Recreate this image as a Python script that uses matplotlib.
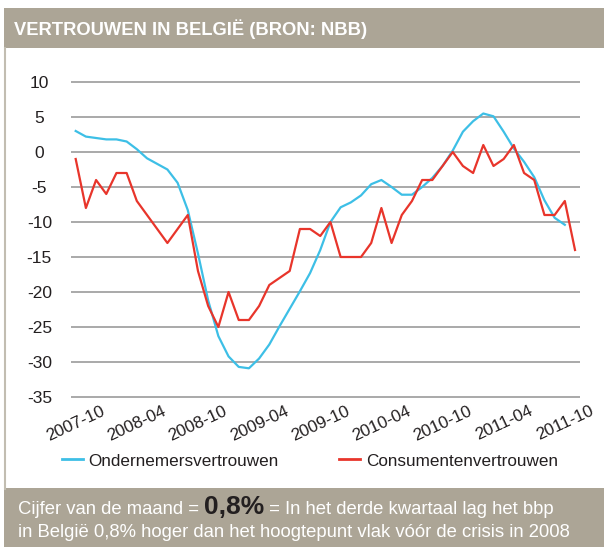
import matplotlib
matplotlib.use('Agg')
import matplotlib.pyplot as plt
from matplotlib.patches import Rectangle
from matplotlib.lines import Line2D

plt.rcParams['font.family'] = ['Liberation Sans', 'DejaVu Sans']
plt.rcParams['axes.unicode_minus'] = False

# maandelijkse reeksen, 2007-10 .. 2011-11
ondernemers = [3.0, 2.2, 2.0, 1.8, 1.8, 1.5, 0.4, -0.9, -1.7, -2.5,
               -4.4, -8.3, -14.5, -21.2, -26.3, -29.2, -30.7, -30.9, -29.5, -27.5,
               -24.9, -22.4, -19.9, -17.3, -14.0, -10.0, -7.9, -7.2, -6.2, -4.6,
               -4.0, -5.0, -6.1, -6.1, -5.0, -3.7, -2.0, 0.2, 2.9, 4.4,
               5.5, 5.1, 2.9, 0.5, -1.4, -3.6, -6.9, -9.4, -10.4]
consumenten = [-1, -8, -4, -6, -3, -3, -7, -9, -11, -13,
               -11, -9, -17, -22, -25, -20, -24, -24, -22, -19,
               -18, -17, -11, -11, -12, -10, -15, -15, -15, -13,
               -8, -13, -9, -7, -4, -4, -2, 0, -2, -3,
               1, -2, -1, 1, -3, -4, -9, -9, -7, -14]
tick_pos = [0, 6, 12, 18, 24, 30, 36, 42, 48]
tick_labels = ['2007-10', '2008-04', '2008-10', '2009-04', '2009-10',
               '2010-04', '2010-10', '2011-04', '2011-10']
y_ticks = [10, 5, 0, -5, -10, -15, -20, -25, -30, -35]

BLUE = '#3dbfe6'
RED = '#e8352b'
BAR = '#aca596'
TXT = '#231f20'

W, H = 604, 547
fig = plt.figure(figsize=(W / 100, H / 100), dpi=100)


def fx(x):
    return x / W


def fy(y):
    return 1 - y / H


# kader en titelbalk
fig.add_artist(Line2D([fx(4.5), fx(4.5)], [fy(48), fy(489)], color='#c2bdb1', lw=1.5))
fig.add_artist(Rectangle((fx(4), fy(48)), 600 / W, 40 / H, color=BAR, lw=0))
fig.text(fx(14), fy(35), 'VERTROUWEN IN BELGIË (BRON: NBB)', color='white',
         fontsize=13.2, fontweight='bold', va='baseline')

ax = fig.add_axes([fx(70.6), fy(398.05), (580.1 - 70.6) / W, (398.05 - 80.95) / H])
ax.plot(range(len(ondernemers)), ondernemers, color=BLUE, lw=1.6)
ax.plot(range(len(consumenten)), consumenten, color=RED, lw=1.6)
ax.set_xlim(-0.5, 49.5)
ax.set_ylim(-35.15, 10.15)
ax.set_yticks(y_ticks)
ax.set_xticks(tick_pos, tick_labels, rotation=25)
for s in ax.spines.values():
    s.set_visible(False)
ax.grid(axis='y', color='#9b9b9b', lw=1.2)
ax.set_axisbelow(True)
ax.tick_params(axis='y', length=0, pad=22.5, labelsize=12.5, labelcolor=TXT)
ax.tick_params(axis='x', length=0, pad=4, labelsize=12.3, labelcolor=TXT)
for t in ax.get_yticklabels():
    t.set_horizontalalignment('center')

# legenda
fig.add_artist(Line2D([fx(62), fx(83)], [fy(459), fy(459)], color=BLUE, lw=2))
fig.text(fx(88), fy(466), 'Ondernemersvertrouwen', fontsize=12.3, color=TXT, va='baseline')
fig.add_artist(Line2D([fx(339), fx(360)], [fy(459), fy(459)], color=RED, lw=2))
fig.text(fx(366), fy(466), 'Consumentenvertrouwen', fontsize=12.3, color=TXT, va='baseline')

# onderbalk
fig.add_artist(Rectangle((fx(4), 0), 600 / W, 59 / H, color=BAR, lw=0))
t1 = fig.text(fx(18), fy(514), 'Cijfer van de maand = ', color='white', fontsize=13.3, va='baseline')
fig.canvas.draw()
x1 = t1.get_window_extent().x1
t2 = fig.text(x1 / W, fy(514), '0,8%', color=TXT, fontsize=19, fontweight='bold', va='baseline')
fig.canvas.draw()
x2 = t2.get_window_extent().x1
fig.text(x2 / W, fy(514), ' = In het derde kwartaal lag het bbp', color='white', fontsize=13.3, va='baseline')
fig.text(fx(18), fy(537), 'in België 0,8% hoger dan het hoogtepunt vlak vóór de crisis in 2008',
         color='white', fontsize=13.3, va='baseline')

fig.savefig('out.png', dpi=100)
